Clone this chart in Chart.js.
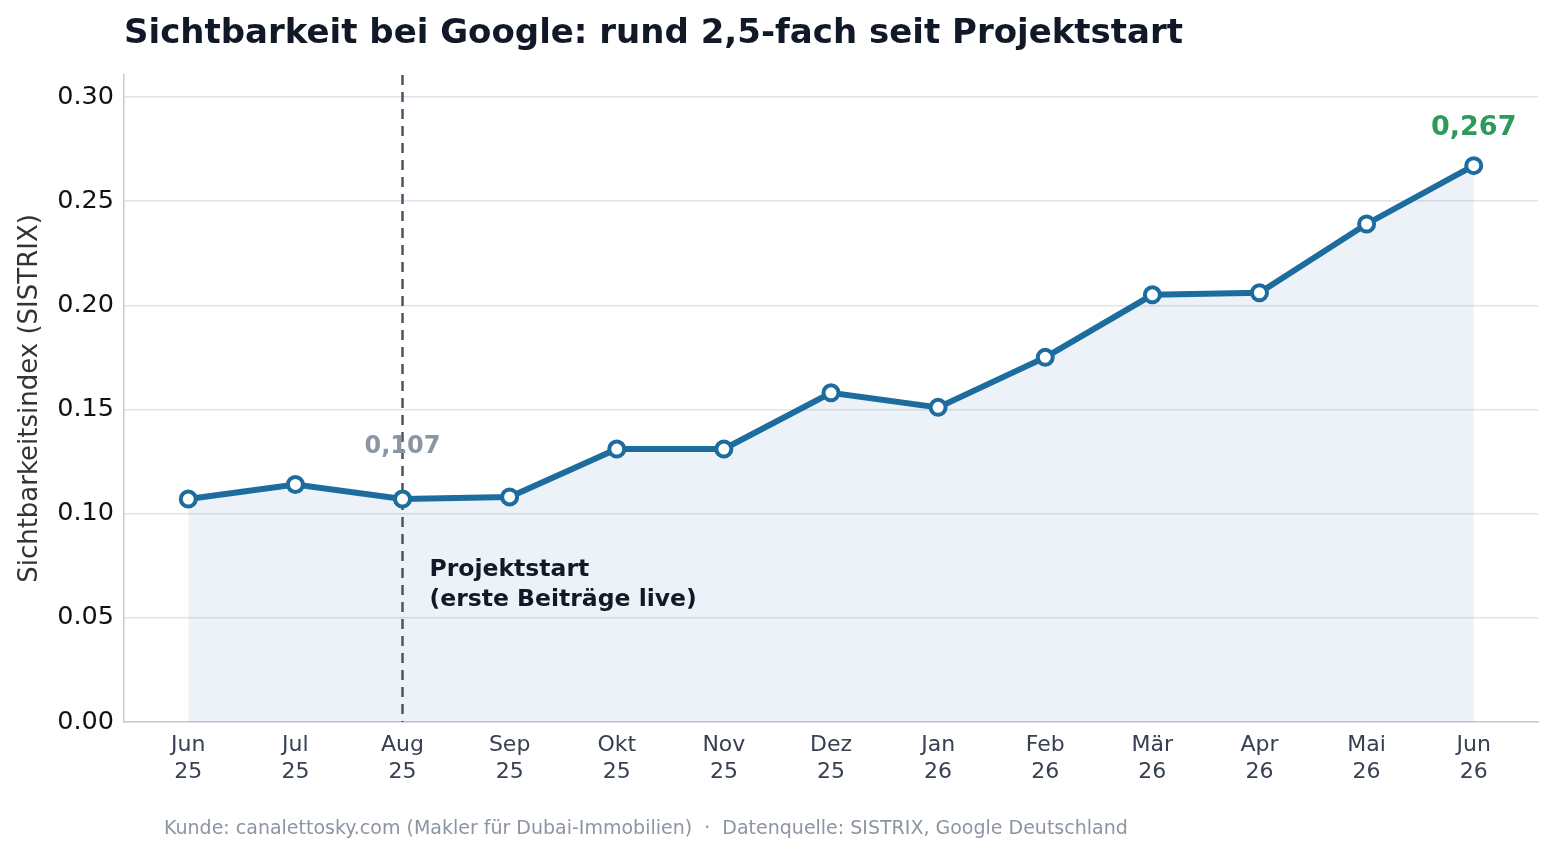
<!DOCTYPE html>
<html>
<head>
<meta charset="utf-8">
<script src="https://cdn.jsdelivr.net/npm/chart.js@4.4.1/dist/chart.umd.min.js"></script>
<style>
  html, body { margin: 0; padding: 0; background: #fff; }
  #wrap { width: 1557px; height: 858px; }
</style>
</head>
<body>
<div id="wrap"><canvas id="visChart"></canvas></div>
<script>
const months = ["Jun", "Jul", "Aug", "Sep", "Okt", "Nov", "Dez", "Jan", "Feb", "Mär", "Apr", "Mai", "Jun"];
const years = ["25", "25", "25", "25", "25", "25", "25", "26", "26", "26", "26", "26", "26"];
const sichtbarkeit = [0.107, 0.114, 0.107, 0.108, 0.131, 0.131, 0.158, 0.151, 0.175, 0.205, 0.206, 0.239, 0.267];
const yTicks = [0, 0.05, 0.10, 0.15, 0.20, 0.25, 0.30];
const startIndex = 2; // Aug 25 = Projektstart

const FONT = "'DejaVu Sans', sans-serif";
const blue = "#1d6c9e";

// titles, vertical marker and text labels
const extrasPlugin = {
  id: "extras",
  beforeDatasetsDraw(chart) {
    const { ctx, chartArea, scales } = chart;
    const x = scales.x.getPixelForValue(startIndex);
    ctx.save();
    ctx.strokeStyle = "#4b5563";
    ctx.lineWidth = 2.5;
    ctx.setLineDash([10, 7]);
    ctx.beginPath();
    ctx.moveTo(x, chartArea.top);
    ctx.lineTo(x, chartArea.bottom);
    ctx.stroke();
    ctx.restore();
  },
  afterDraw(chart) {
    const { ctx, chartArea, scales } = chart;
    ctx.save();
    ctx.textBaseline = "middle";

    ctx.fillStyle = "#111827";
    ctx.font = "bold 34px " + FONT;
    ctx.textAlign = "left";
    ctx.fillText("Sichtbarkeit bei Google: rund 2,5-fach seit Projektstart", chartArea.left, 34);

    ctx.fillStyle = "#8b95a3";
    ctx.font = "19px " + FONT;
    ctx.fillText("Kunde: canalettosky.com (Makler für Dubai-Immobilien)  ·  Datenquelle: SISTRIX, Google Deutschland", 164, 829);

    const xs = scales.x.getPixelForValue(startIndex);
    ctx.fillStyle = "#8b95a3";
    ctx.font = "bold 24px " + FONT;
    ctx.textAlign = "center";
    ctx.fillText(sichtbarkeit[startIndex].toFixed(3).replace(".", ","), xs, 447);

    ctx.fillStyle = "#111827";
    ctx.font = "bold 23.5px " + FONT;
    ctx.textAlign = "left";
    ctx.fillText("Projektstart", xs + 27, 570);
    ctx.fillText("(erste Beiträge live)", xs + 27, 600);

    const last = sichtbarkeit.length - 1;
    ctx.fillStyle = "#2e9a57";
    ctx.font = "bold 27px " + FONT;
    ctx.textAlign = "center";
    ctx.fillText(sichtbarkeit[last].toFixed(3).replace(".", ","),
      scales.x.getPixelForValue(last), scales.y.getPixelForValue(sichtbarkeit[last]) - 38);
    ctx.restore();
  }
};

new Chart(document.getElementById("visChart"), {
  type: "line",
  data: {
    datasets: [
      {
        label: "Sichtbarkeitsindex",
        data: sichtbarkeit.map((v, i) => ({ x: i, y: v })),
        borderColor: blue,
        borderWidth: 6,
        backgroundColor: "rgba(29,108,158,0.085)",
        fill: "origin",
        tension: 0,
        pointRadius: 7.5,
        pointBorderWidth: 4,
        pointBackgroundColor: "#fff",
        pointBorderColor: blue,
      },
    ],
  },
  options: {
    responsive: true,
    maintainAspectRatio: false,
    animation: false,
    layout: { padding: { left: 0, top: 75, right: 19, bottom: 0 } },
    plugins: {
      legend: { display: false },
      tooltip: { enabled: false },
    },
    scales: {
      x: {
        type: "linear",
        min: -0.6,
        max: 12.6,
        afterBuildTicks: (scale) => {
          scale.ticks = months.map((m, i) => ({ value: i }));
        },
        afterFit: (scale) => { scale.height = 136; },
        grid: { display: false, drawTicks: false },
        border: { color: "#c5ced8", width: 1.5 },
        ticks: {
          padding: 10,
          color: "#374151",
          font: { family: FONT, size: 22, lineHeight: 1.23 },
          maxRotation: 0,
          callback: (v) => [months[v], years[v]],
        },
      },
      y: {
        min: 0,
        max: 0.3105,
        afterBuildTicks: (scale) => {
          scale.ticks = yTicks.map((v) => ({ value: v }));
        },
        afterFit: (scale) => { scale.width = 124; },
        grid: { color: "#dfe4ea", lineWidth: 1.5, drawTicks: false },
        border: { color: "#c5ced8", width: 1.5 },
        ticks: {
          padding: 10,
          color: "#111111",
          font: { family: FONT, size: 25.5 },
          callback: (v) => v.toFixed(2),
        },
        title: {
          display: true,
          text: "Sichtbarkeitsindex (SISTRIX)",
          color: "#333333",
          font: { family: FONT, size: 26 },
          padding: { top: 15, bottom: 0 },
        },
      },
    },
  },
  plugins: [extrasPlugin],
});
</script>
</body>
</html>
